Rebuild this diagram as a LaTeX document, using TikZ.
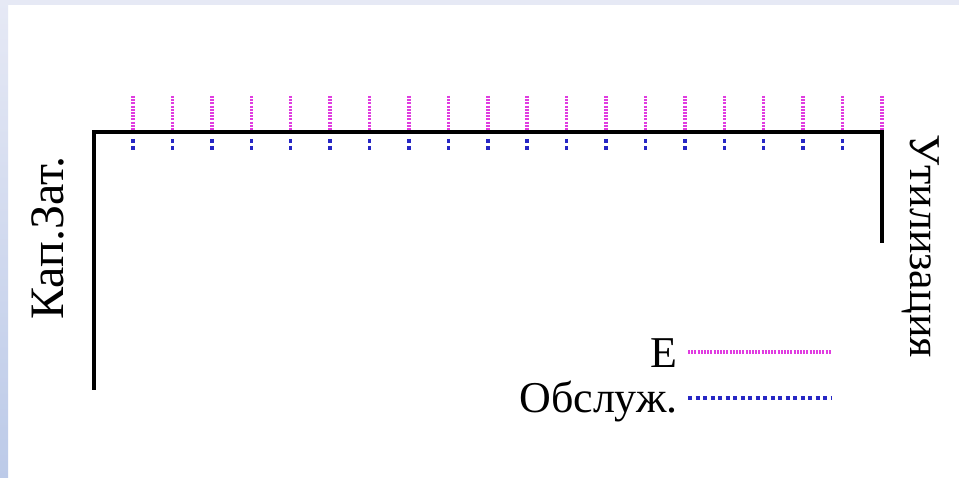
\documentclass[tikz,border=0pt]{standalone}
\usepackage{fontspec}
\setmainfont{Liberation Serif}
\begin{document}
\begin{tikzpicture}[x=1pt,y=-1pt]
    % Define colours
    \definecolor{axisColour}{HTML}{000000}
    \definecolor{energyColour}{HTML}{E03CE0}
    \definecolor{serviceColour}{HTML}{2626C4}
    \definecolor{frameTop}{HTML}{E6E9F5}
    \definecolor{frameBottom}{HTML}{BCCAE8}

    % Define tick spacing
    \def\tickStep{39.42}

    % Styles for the two cost kinds
    \tikzset{
        energyLine/.style={energyColour, line width=3.5pt, dash pattern=on 2pt off 1.2pt},
        serviceLine/.style={serviceColour, line width=3.5pt, dash pattern=on 4pt off 3.5pt},
        bigLabel/.style={font=\fontsize{44}{44}\selectfont, inner sep=0pt},
        legendLabel/.style={font=\fontsize{44}{44}\selectfont, inner sep=0pt, anchor=east}
    }

    % Draw slide background
    \useasboundingbox (0,0) rectangle (959,478);
    \fill[white] (0,0) rectangle (959,478);
    \fill[frameTop] (0,0) rectangle (959,5);
    \shade[top color=frameTop, bottom color=frameBottom] (0,0) rectangle (8,478);

    % Corners of the cost profile
    \coordinate (capEnd) at (94,390);
    \coordinate (capTop) at (94,132);
    \coordinate (utilTop) at (882,132);
    \coordinate (utilEnd) at (882,243);

    % Draw the cost profile
    \draw[axisColour, line width=4pt] (capEnd) -- (capTop) -- (utilTop) -- (utilEnd);

    % Draw energy ticks above and service ticks below
    \foreach \i in {0,...,19}
        \draw[energyLine] (133+\i*\tickStep,96) -- (133+\i*\tickStep,130);
    \foreach \i in {0,...,18}
        \draw[serviceLine] (133+\i*\tickStep,139) -- (133+\i*\tickStep,153);

    % Label the two sides
    \node[bigLabel, font=\fontsize{48}{48}\selectfont, rotate=90] (capLabel) at (48,238) {Кап.Зат.};
    \node[bigLabel, rotate=-90] (utilLabel) at (921,246) {Утилизация};

    % Draw legend
    \node[legendLabel] (energyLabel) at (678,353) {E};
    \node[legendLabel] (serviceLabel) at (678,401) {Обслуж.};
    \draw[energyLine] ([xshift=10pt,yshift=1pt]energyLabel.east) -- ++(143,0);
    \draw[serviceLine] ([xshift=10pt,yshift=3pt]serviceLabel.east) -- ++(143,0);

\end{tikzpicture}
\end{document}
